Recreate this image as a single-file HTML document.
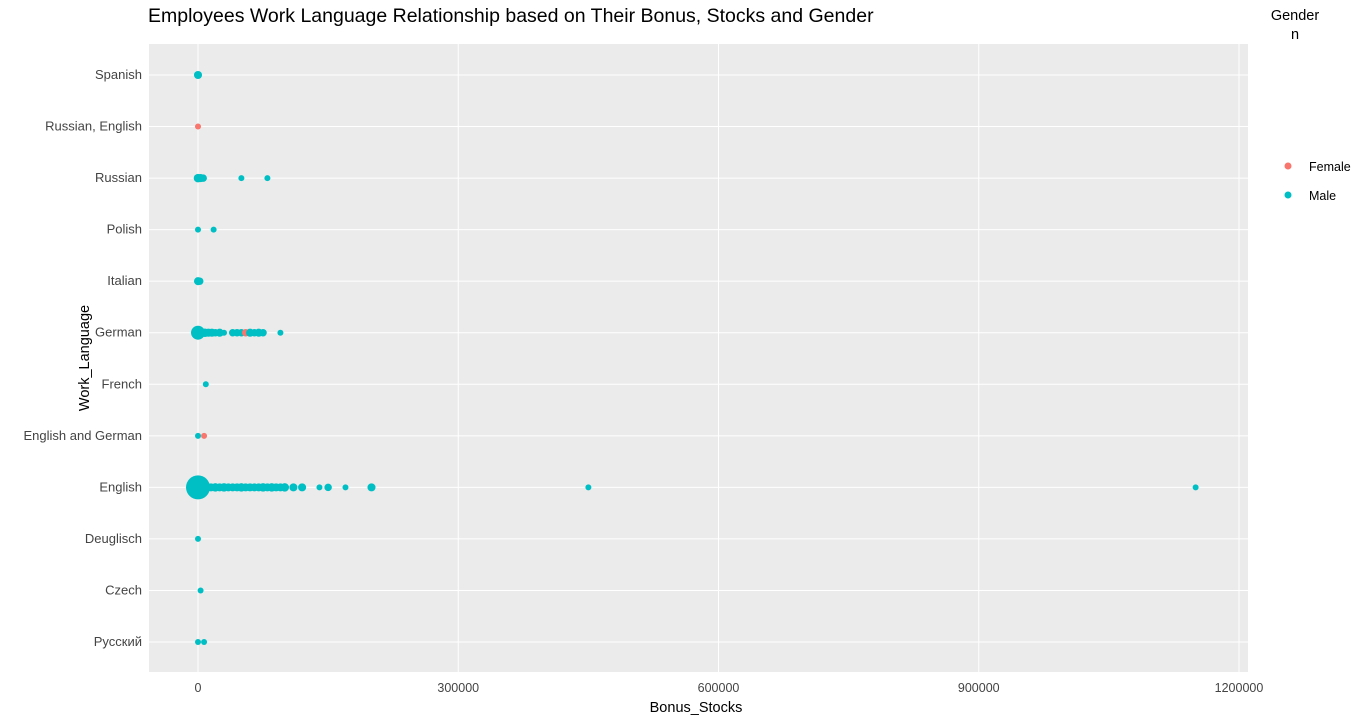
<!DOCTYPE html>
<html><head><meta charset="utf-8"><style>
body{margin:0;background:#fff;font-family:"Liberation Sans","Noto Sans CJK SC",sans-serif;}
svg{display:block}
</style></head><body>
<svg id="chart" width="1366" height="716">
<text x="148" y="22" font-size="19.5" fill="#000">Employees Work Language Relationship based on Their Bonus, Stocks and Gender</text>
<rect x="149" y="44" width="1099" height="628" fill="#ebebeb"/>
<g id="grid"></g><g id="marks"></g><g id="axes"></g>
<text x="696" y="712" font-size="14.5" text-anchor="middle" fill="#000">Bonus_Stocks</text>
<text transform="translate(89,358) rotate(-90)" font-size="14.5" text-anchor="middle" fill="#000">Work_Language</text>
<g>
<text x="1295" y="20" font-size="14.5" text-anchor="middle">Gender</text>
<text x="1295" y="39" font-size="14.5" text-anchor="middle">n</text>
<g><circle cx="1288" cy="166" r="3.5" fill="#F8766D"/><text x="1309" y="171" font-size="12.5">Female</text></g>
<g><circle cx="1288" cy="195" r="3.5" fill="#00BFC4"/><text x="1309" y="200" font-size="12.5">Male</text></g>
</g>
</svg>
<script>
const categories=["Русский","Czech","Deuglisch","English","English and German","French","German","Italian","Polish","Russian","Russian, English","Spanish"];
const xTicks=[0,300000,600000,900000,1200000];
const ptLang=[
"English","English","English","English","English","English","English","English","English","English","English","English","English","English","English","English","English","English","English","English","English","English","English","English","English","English","English",
"German","German","German","German","German","German","German","German","German","German","German","German","German","German","German","German",
"Spanish","Russian, English","Russian","Russian","Russian","Russian","Russian","Polish","Polish","Italian","Italian","French","English and German","English and German","Deuglisch","Czech","Русский","Русский"];
const ptBonus=[
0,15000,20000,25000,30000,35000,40000,45000,50000,55000,60000,65000,70000,75000,80000,85000,90000,95000,100000,110000,120000,140000,150000,170000,200000,450000,1150000,
0,8000,12000,16000,20000,25000,30000,40000,45000,50000,55000,60000,65000,70000,75000,95000,
0,0,0,3000,6000,50000,80000,0,18000,0,2000,9000,0,7000,0,3000,0,7000];
const ptGender=[
"M","M","M","M","M","M","M","M","M","M","M","M","M","M","M","M","M","M","M","M","M","M","M","M","M","M","M",
"M","M","M","M","M","M","M","M","M","M","F","M","M","M","M","M",
"M","F","M","M","M","M","M","M","M","M","M","M","M","F","M","M","M","M"];
const ptN=[
150,3,4,3,4,3,3,3,4,3,3,3,3,4,3,4,3,3,4,3,3,1,2,1,3,1,1,
30,4,3,3,2,3,1,2,2,2,2,3,2,3,2,1,
3,1,4,3,2,1,1,1,1,3,2,1,1,1,1,1,1,1];
const NS="http://www.w3.org/2000/svg";
const L=149,R=1248,T=44,B=672;
const xs=v=>198+v*(1239-198)/1200000;
const ys=c=>{const i=categories.indexOf(c);return 642-i*(642-75)/(categories.length-1);};
const maxN=Math.max(...ptN);
const rs=n=>3+9*Math.sqrt((n-1)/(maxN-1));
const grid=document.getElementById('grid'),axes=document.getElementById('axes'),marks=document.getElementById('marks');
function mk(t,a,p){const e=document.createElementNS(NS,t);for(const k in a)e.setAttribute(k,a[k]);p.appendChild(e);return e;}
xTicks.forEach(t=>{
 const g=mk('line',{x1:xs(t),x2:xs(t),y1:T,y2:B,stroke:'#fff','stroke-width':1},grid);
 
 
 const tx=mk('text',{x:xs(t),y:B+20,'font-size':12.5,'text-anchor':'middle',fill:'#444'},axes);
 tx.textContent=t;
 
 
});
categories.forEach(c=>{
 const g=mk('line',{x1:L,x2:R,y1:ys(c),y2:ys(c),stroke:'#fff','stroke-width':1},grid);
 
 
 const tx=mk('text',{x:142,y:ys(c)+4,'font-size':13,'text-anchor':'end',fill:'#444'},axes);
 tx.textContent=c;
 
 
});
ptLang.forEach((c,i)=>{
 const e=mk('circle',{cx:xs(ptBonus[i]),cy:ys(c),r:rs(ptN[i]),fill:ptGender[i]==='F'?'#F8766D':'#00BFC4'},marks);
 
 
});
</script>
</body></html>
